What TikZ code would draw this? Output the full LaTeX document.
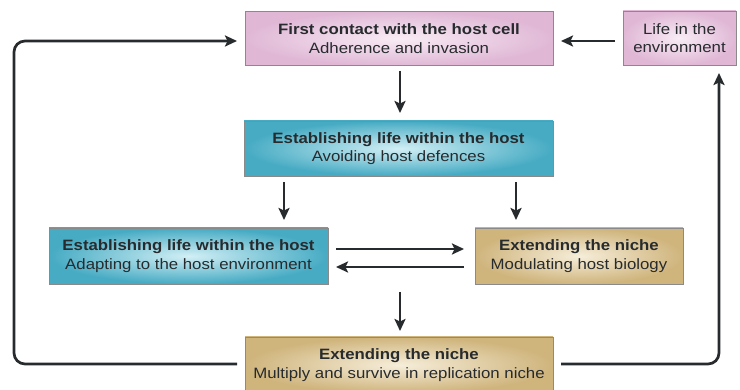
\documentclass[tikz,border=0pt]{standalone}
\usepackage{fontspec}
\setmainfont{Liberation Sans}[FakeStretch=1.12]
\usetikzlibrary{arrows.meta}
\definecolor{pinkout}{HTML}{E0B8D6}
\definecolor{pinkin}{HTML}{F8ECF5}
\definecolor{blueout}{HTML}{46ABC3}
\definecolor{bluein}{HTML}{D2EFF5}
\definecolor{tanout}{HTML}{CFB47C}
\definecolor{tanin}{HTML}{F6EEDA}
\definecolor{edgegrey}{HTML}{8A8A8A}
\definecolor{ink}{HTML}{272B2E}
\tikzset{
  box/.style={draw=edgegrey, line width=0.8pt, inner sep=0pt, align=center,
    font=\fontsize{15}{18.5}\selectfont, text=ink},
  pinkbox/.style={box, inner color=pinkin, outer color=pinkout},
  bluebox/.style={box, inner color=bluein, outer color=blueout},
  tanbox/.style={box, inner color=tanin, outer color=tanout},
  flow/.style={draw=ink, line width=2.7pt,
    -{Stealth[length=12pt,width=11pt,inset=2.5pt]}},
  loop/.style={flow, rounded corners=11pt},
}
\newcommand{\ttl}[1]{{\bfseries #1}}
\begin{document}
\begin{tikzpicture}[x=1pt,y=-1pt]
\useasboundingbox (0,0) rectangle (740,390);
% boxes
\node[pinkbox, minimum width=308pt, minimum height=54pt] (contact) at (399,38.5)
  {\ttl{First contact with the host cell}\\Adherence and invasion};
\node[pinkbox, minimum width=113pt, minimum height=54pt] (env) at (679.5,38)
  {Life in the\\environment};
\node[bluebox, minimum width=309pt, minimum height=55pt] (avoid) at (398.5,148.5)
  {\ttl{Establishing life within the host}\\Avoiding host defences};
\node[bluebox, minimum width=279pt, minimum height=56pt] (adapt) at (188.5,256)
  {\ttl{Establishing life within the host}\\Adapting to the host environment};
\node[tanbox, minimum width=208pt, minimum height=56pt] (modul) at (579,256)
  {\ttl{Extending the niche}\\Modulating host biology};
\node[tanbox, minimum width=308pt, minimum height=56pt] (repl) at (399,365)
  {\ttl{Extending the niche}\\Multiply and survive in replication niche};
% connector end points
\coordinate (c1) at (400,71);   \coordinate (c2) at (400,113);
\coordinate (a1) at (284,182);  \coordinate (a2) at (284,220);
\coordinate (b1) at (516,182);  \coordinate (b2) at (516,220);
\coordinate (h1) at (336,249);  \coordinate (h2) at (464,249);
\coordinate (g1) at (464,267);  \coordinate (g2) at (336,267);
\coordinate (mid) at (400,292); \coordinate (m2) at (400,331);
\coordinate (ls) at (237,364);  \coordinate (lc) at (14,364);
\coordinate (lt) at (14,41);    \coordinate (le) at (237,41);
\coordinate (rs) at (561,364);  \coordinate (rc) at (719,364);
\coordinate (re) at (719,73);
\coordinate (e1) at (615,41);   \coordinate (e2) at (561,41);
% connectors
\draw[flow] (c1) -- (c2);
\draw[flow] (a1) -- (a2);
\draw[flow] (b1) -- (b2);
\draw[flow] (h1) -- (h2);
\draw[flow] (g1) -- (g2);
\draw[flow] (mid) -- (m2);
\draw[loop] (ls) -- (lc) -- (lt) -- (le);
\draw[loop] (rs) -- (rc) -- (re);
\draw[flow] (e1) -- (e2);
\end{tikzpicture}
\end{document}
